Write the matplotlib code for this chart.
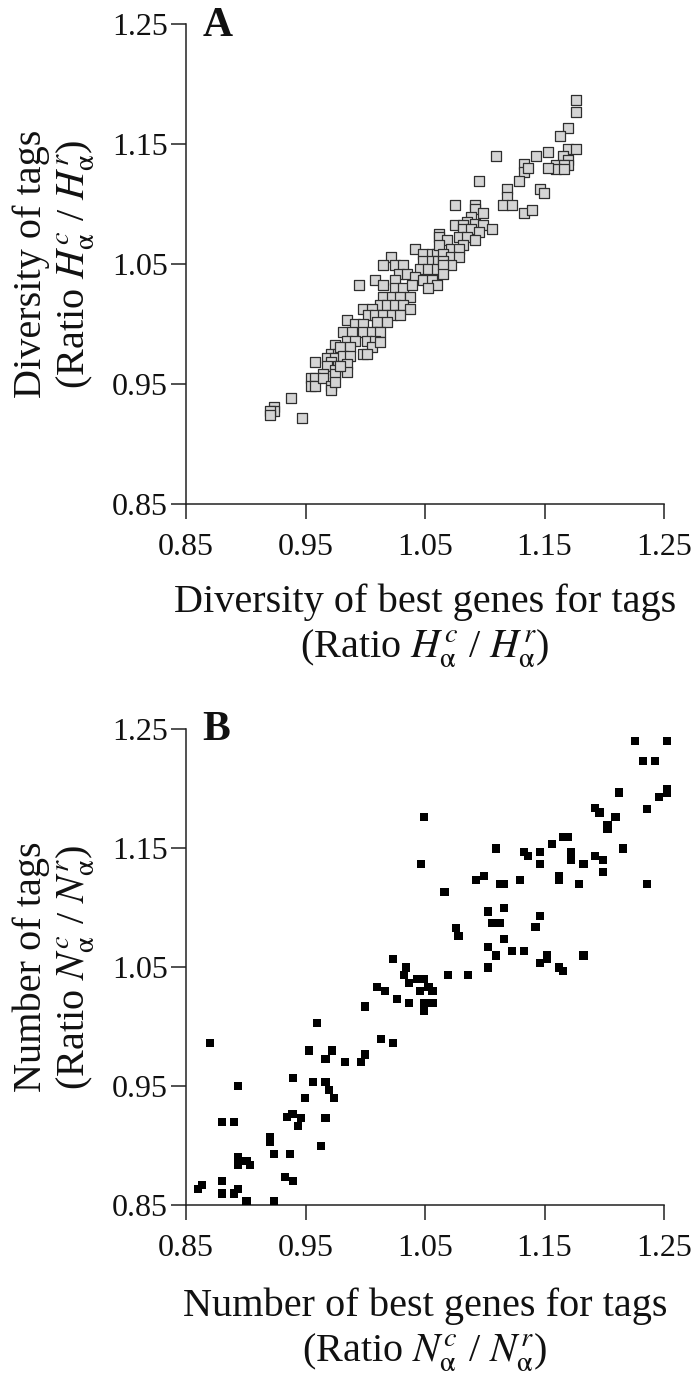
import matplotlib
matplotlib.use("Agg")
import matplotlib.pyplot as plt

plt.rcParams['font.family'] = ['Liberation Serif', 'DejaVu Serif']
plt.rcParams['mathtext.fontset'] = 'stix'

# Panel A: diversity ratios (best genes vs tags)
div_genes = [
    0.9747, 0.9711, 0.9775, 0.9677, 0.9747, 0.9711, 0.9677, 0.9775, 0.9744, 0.9644,
    0.9744, 0.9577, 0.9544, 0.9577, 0.9544, 0.9577, 0.9644, 0.9711, 0.9711, 0.9744,
    0.9473, 0.9376, 0.9239, 0.9239, 0.9205, 0.9205,
    0.9948, 1.0416, 1.0215, 1.0146, 1.0249, 1.0313, 1.0486, 1.0556, 1.0598, 1.0486,
    1.0556, 1.0611, 1.0458, 1.0528, 1.0598, 1.0285, 1.0347, 1.0416, 1.0082, 1.0151,
    1.0249, 1.0249, 1.0318, 1.0389, 1.0486, 1.0556, 1.0598, 1.0528, 1.0151, 1.0221,
    1.0291, 1.0374, 1.0123, 1.0179, 1.0249, 1.0318, 1.0374, 0.9984, 1.0053, 1.0026,
    1.0082, 1.0151, 1.0221, 1.0291, 0.9845, 0.9914, 0.9984, 1.0096, 1.0179, 0.9816,
    0.9887, 0.9984, 1.0053, 1.0123, 0.9845, 0.9914, 1.0012, 1.0082, 0.9789, 0.9872,
    1.0053, 1.0123, 0.9984, 1.0012, 0.9816, 0.9872, 0.9845, 0.9845, 0.9789,
    1.1092, 1.0955, 1.1328, 1.1328, 1.1289, 1.1189, 1.1189, 1.1155, 1.1226, 1.1328,
    1.0754, 1.0921, 1.0921, 1.0988, 1.0885, 1.0854, 1.0921, 1.0751, 1.0820, 1.0988,
    1.1058, 1.0820, 1.0887, 1.0955, 1.0787, 1.0854, 1.0921, 1.0620, 1.0620, 1.0687,
    1.0620, 1.0820, 1.0720, 1.0787, 1.0653, 1.0720, 1.0787, 1.0653, 1.0720, 1.0653,
    1.0653,
    1.1764, 1.1764, 1.1694, 1.1630, 1.1694, 1.1764, 1.1657, 1.1699, 1.1699, 1.1529,
    1.1426, 1.1596, 1.1666, 1.1596, 1.1666, 1.1529, 1.1365, 1.1462, 1.1496, 1.1393,
]
div_tags = [
    0.9821, 0.9751, 0.9751, 0.9718, 0.9718, 0.9684, 0.9651, 0.9651, 0.9618, 0.9584,
    0.9584, 0.9684, 0.9551, 0.9551, 0.9484, 0.9484, 0.9551, 0.9484, 0.9450, 0.9518,
    0.9217, 0.9384, 0.9311, 0.9277, 0.9277, 0.9244,
    1.0321, 1.0622, 1.0558, 1.0488, 1.0488, 1.0488, 1.0586, 1.0586, 1.0586, 1.0522,
    1.0522, 1.0522, 1.0461, 1.0461, 1.0461, 1.0419, 1.0419, 1.0391, 1.0363, 1.0321,
    1.0363, 1.0302, 1.0302, 1.0321, 1.0363, 1.0363, 1.0321, 1.0302, 1.0224, 1.0224,
    1.0224, 1.0224, 1.0155, 1.0155, 1.0155, 1.0155, 1.0127, 1.0127, 1.0127, 1.0071,
    1.0071, 1.0071, 1.0071, 1.0071, 1.0030, 1.0002, 1.0002, 1.0015, 1.0015, 0.9932,
    0.9932, 0.9932, 0.9932, 0.9932, 0.9862, 0.9862, 0.9862, 0.9862, 0.9806, 0.9806,
    0.9806, 0.9848, 0.9751, 0.9751, 0.9737, 0.9737, 0.9667, 0.9598, 0.9654,
    1.1398, 1.1192, 1.1331, 1.1265, 1.1192, 1.1128, 1.1058, 1.0995, 1.0995, 1.0928,
    1.0995, 1.0995, 1.0962, 1.0928, 1.0892, 1.0850, 1.0831, 1.0825, 1.0825, 1.0825,
    1.0791, 1.0791, 1.0791, 1.0764, 1.0724, 1.0724, 1.0697, 1.0753, 1.0725, 1.0697,
    1.0655, 1.0655, 1.0628, 1.0628, 1.0586, 1.0558, 1.0558, 1.0524, 1.0488, 1.0488,
    1.0419,
    1.1866, 1.1768, 1.1634, 1.1565, 1.1462, 1.1462, 1.1398, 1.1365, 1.1323, 1.1434,
    1.1398, 1.1323, 1.1323, 1.1290, 1.1290, 1.1296, 1.1296, 1.1128, 1.1095, 1.0947,
]

# Panel B: number ratios (best genes vs tags)
num_genes = [
    0.8700, 0.9599, 0.9532, 0.9719, 0.9666, 0.8935, 0.9398, 0.9565, 0.9666, 0.9699,
    0.9498, 0.9738, 0.8804, 0.8902, 0.9343, 0.9390, 0.9462, 0.9435, 0.9666, 0.9203,
    0.9203, 0.9632, 0.9234, 0.9368, 0.8935, 0.9005, 0.9038, 0.8935, 0.9331, 0.9398,
    0.8804, 0.8636, 0.8603, 0.8804, 0.8902, 0.8935, 0.9005, 0.9234,
    1.0662, 1.0757, 1.0779, 1.0232, 1.0341, 1.0324, 1.0431, 1.0494, 1.0364, 1.0528,
    1.0458, 1.0564, 1.0494, 1.0564, 1.0494, 1.0695, 1.0098, 1.0165, 1.0263, 1.0364,
    1.0000, 1.0132, 1.0232, 0.9833, 0.9998, 0.9964,
    1.1058, 1.1128, 1.1426, 1.1161, 1.1027, 1.1094, 1.1228, 1.1328, 1.1523, 1.1460,
    1.1523, 1.1624, 1.1657, 1.1825, 1.1027, 1.0862,
    1.2257, 1.2523, 1.2322, 1.2422, 1.2123, 1.2523, 1.2523, 1.2456, 1.2355, 1.1925,
    1.1959, 1.2093, 1.2026, 1.2026, 1.0494, 1.1657, 1.1694, 1.1560, 1.1094, 1.1326,
    1.1362, 1.1462, 1.1462, 1.1724, 1.1724, 1.1825, 1.1925, 1.1992, 1.1992, 1.2157,
    1.0464, 1.2355, 1.1791, 1.1624, 1.1624, 1.0992, 1.0927, 1.1128, 1.1161, 1.1295,
    1.1027, 1.1161, 1.1462,
]
num_tags = [
    0.9860, 1.0032, 0.9797, 0.9797, 0.9729, 0.9500, 0.9565, 0.9531, 0.9531, 0.9466,
    0.9399, 0.9399, 0.9195, 0.9195, 0.9242, 0.9265, 0.9231, 0.9164, 0.9229, 0.9066,
    0.9029, 0.8998, 0.8931, 0.8931, 0.8901, 0.8867, 0.8834, 0.8834, 0.8733, 0.8699,
    0.8699, 0.8666, 0.8632, 0.8598, 0.8598, 0.8632, 0.8534, 0.8534,
    1.1130, 1.0830, 1.0763, 1.0565, 1.0497, 1.0433, 1.0400, 1.0400, 1.0363, 1.0330,
    1.0298, 1.0298, 1.0200, 1.0200, 1.0133, 1.0430, 1.0332, 1.0296, 1.0231, 1.0197,
    1.0167, 0.9897, 0.9864, 0.9699, 0.9766, 0.9699,
    1.0867, 1.0867, 1.0834, 1.0733, 1.0666, 1.0598, 1.0632, 1.0632, 1.0598, 1.0531,
    1.0565, 1.0497, 1.0464, 1.0598, 1.0497, 1.0430,
    1.2400, 1.2400, 1.2231, 1.2231, 1.1965, 1.1998, 1.1960, 1.1931, 1.1830, 1.1836,
    1.1797, 1.1763, 1.1696, 1.1662, 1.1763, 1.1595, 1.1595, 1.1531, 1.1497, 1.1464,
    1.1430, 1.1464, 1.1366, 1.1464, 1.1397, 1.1366, 1.1430, 1.1397, 1.1298, 1.1497,
    1.1366, 1.1198, 1.1198, 1.1265, 1.1231, 1.1265, 1.1231, 1.1198, 1.1198, 1.1231,
    1.0965, 1.0998, 1.0931,
]

ticks = [0.85, 0.95, 1.05, 1.15, 1.25]
tick_labels = ["0.85", "0.95", "1.05", "1.15", "1.25"]

W, H = 696, 1376
fig = plt.figure(figsize=(W / 100, H / 100), dpi=100)
axA = fig.add_axes([186 / W, 1 - 504 / H, 478 / W, 480 / H])
axB = fig.add_axes([186 / W, 1 - 1205 / H, 478 / W, 476 / H])


def style(ax):
    ax.set_xlim(0.85, 1.25)
    ax.set_ylim(0.85, 1.25)
    ax.set_xticks(ticks)
    ax.set_yticks(ticks)
    ax.set_xticklabels(tick_labels)
    ax.set_yticklabels(tick_labels)
    for s in ("top", "right"):
        ax.spines[s].set_visible(False)
    for s in ("left", "bottom"):
        ax.spines[s].set_linewidth(1.1)
        ax.spines[s].set_color("#222222")
    ax.tick_params(direction="out", length=11, width=1.1, color="#222222",
                   labelsize=23, labelcolor="#111111")
    ax.tick_params(axis="y", pad=2)
    ax.tick_params(axis="x", pad=10)


style(axA)
style(axB)

axA.scatter(div_genes, div_tags, marker="s", s=48, facecolor="#d4d4d4",
            edgecolor="#2e2e2e", linewidth=0.9, clip_on=False, zorder=3)
axB.scatter(num_genes, num_tags, marker="s", s=36, facecolor="black",
            edgecolor="none", clip_on=False, zorder=3)

lab_kw = dict(fontsize=29, color="#111111", ha="center", va="center",
              multialignment="center")

fig.text(55 / W, 1 - 264 / H,
         "Diversity of tags\n(Ratio $H^{c}_{\\mathrm{\\alpha}}$ / $H^{r}_{\\mathrm{\\alpha}}$)",
         rotation=90, linespacing=1.15, **lab_kw)
fig.text(425 / W, 1 - 627 / H,
         "Diversity of best genes for tags\n(Ratio $H^{c}_{\\mathrm{\\alpha}}$ / $H^{r}_{\\mathrm{\\alpha}}$)",
         linespacing=1.2, **lab_kw)

fig.text(55 / W, 1 - 967 / H,
         "Number of tags\n(Ratio $N^{c}_{\\mathrm{\\alpha}}$ / $N^{r}_{\\mathrm{\\alpha}}$)",
         rotation=90, linespacing=1.15, **lab_kw)
fig.text(425 / W, 1 - 1331 / H,
         "Number of best genes for tags\n(Ratio $N^{c}_{\\mathrm{\\alpha}}$ / $N^{r}_{\\mathrm{\\alpha}}$)",
         linespacing=1.2, **lab_kw)

fig.text(203 / W, 1 - 36 / H, "A", fontsize=30, fontweight="bold",
         ha="left", va="baseline", color="#111111")
fig.text(202 / W, 1 - 740 / H, "B", fontsize=30, fontweight="bold",
         ha="left", va="baseline", color="#111111")

fig.savefig("out.png", dpi=100)
